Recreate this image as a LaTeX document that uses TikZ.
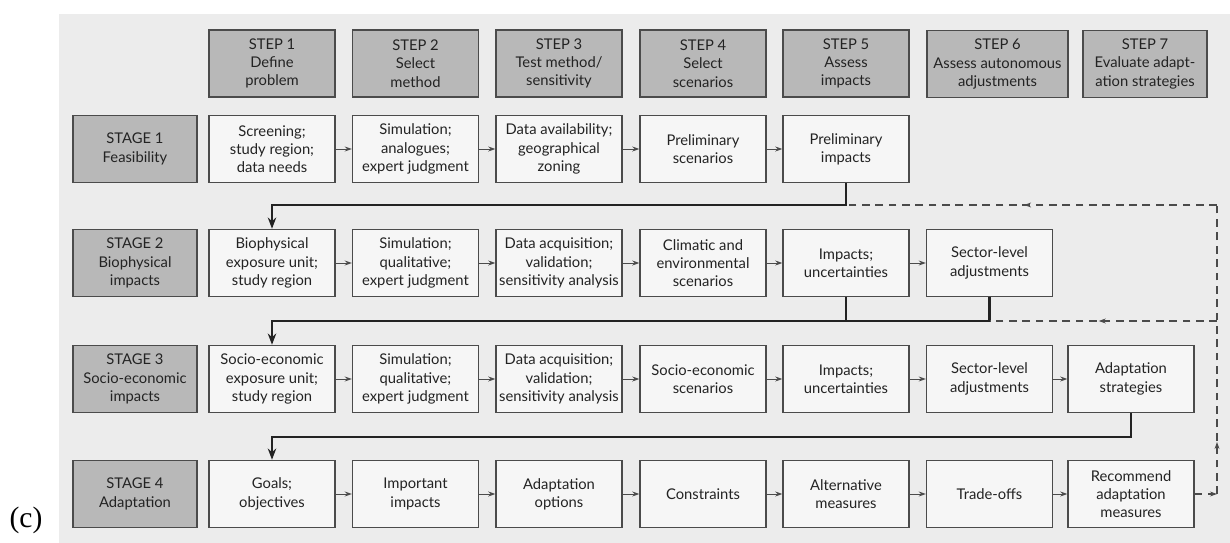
\documentclass[tikz,border=0pt]{standalone}
\usepackage{fontspec}
\setmainfont{Lato}
\newfontfamily\capfont{Liberation Serif}
\usetikzlibrary{arrows.meta,decorations.markings}

\begin{document}
\begin{tikzpicture}[x=0.025cm, y=-0.025cm, >={Stealth[length=5pt,width=3.5pt]}]
      % scan colours
      \definecolor{scancolor}{RGB}{236,236,236}   % page background
      \definecolor{headcolor}{RGB}{184,184,184}   % step / stage boxes
      \definecolor{boxcolor}{RGB}{246,246,246}    % activity boxes
      \definecolor{edgecolor}{RGB}{75,75,75}      % box borders
      \definecolor{inkcolor}{RGB}{35,35,35}       % text and buses

      % styles
      \tikzstyle{head} = [rectangle, draw=edgecolor, line width=0.9pt, fill=headcolor, minimum width=3.15cm, minimum height=1.68cm, align=center, text=inkcolor, inner sep=1pt, font=\fontsize{10.5}{13}\selectfont]
      \tikzstyle{cell} = [head, fill=boxcolor]
      \tikzstyle{flow} = [->, line width=0.7pt, edgecolor]
      \tikzstyle{bus} = [-{Stealth[length=8pt,width=6pt]}, line width=1.6pt, inkcolor]
      \tikzstyle{feedback} = [line width=0.8pt, edgecolor, dash pattern=on 5.5pt off 4pt]
      \tikzset{midarrow/.style={postaction={decorate}, decoration={markings, mark=at position #1 with {\arrow{Stealth[length=5pt,width=3.5pt]}}}}}

      \useasboundingbox (0,0) rectangle (1230,543);
      \fill[scancolor] (59,14) rectangle (1230,543);
      \node[font=\capfont\fontsize{21}{24}\selectfont] (panel) at (26,520) {(c)};

      % steps
      \node[head] (step1) at (272, 63.5) {STEP 1\\Define\\problem};
      \node[head] (step2) at (415.5, 63.5) {STEP 2\\Select\\method};
      \node[head] (step3) at (559, 63.5) {STEP 3\\Test method/\\sensitivity};
      \node[head] (step4) at (703, 63.5) {STEP 4\\Select\\scenarios};
      \node[head] (step5) at (846, 63.5) {STEP 5\\Assess\\impacts};
      \node[head, minimum width=3.525cm] (step6) at (997.5, 64) {STEP 6\\Assess autonomous\\adjustments};
      \node[head, minimum width=3.1cm] (step7) at (1145, 64) {STEP 7\\Evaluate adapt-\\ation strategies};

      % stages
      \node[head, minimum width=3.1cm] (stage1) at (135, 149) {STAGE 1\\Feasibility};
      \node[head, minimum width=3.1cm] (stage2) at (135, 263) {STAGE 2\\Biophysical\\impacts};
      \node[head, minimum width=3.1cm] (stage3) at (135, 379) {STAGE 3\\Socio-economic\\impacts};
      \node[head, minimum width=3.1cm] (stage4) at (135, 494) {STAGE 4\\Adaptation};

      % stage 1 row
      \node[cell] (feas1) at (272, 149) {Screening;\\study region;\\data needs};
      \node[cell] (feas2) at (415.5, 149) {Simulation;\\analogues;\\expert judgment};
      \node[cell] (feas3) at (559, 149) {Data availability;\\geographical\\zoning};
      \node[cell] (feas4) at (703, 149) {Preliminary\\scenarios};
      \node[cell] (feas5) at (846, 149) {Preliminary\\impacts};

      % stage 2 row
      \node[cell] (bio1) at (272, 263) {Biophysical\\exposure unit;\\study region};
      \node[cell] (bio2) at (415.5, 263) {Simulation;\\qualitative;\\expert judgment};
      \node[cell] (bio3) at (559, 263) {Data acquisition;\\validation;\\sensitivity analysis};
      \node[cell] (bio4) at (703, 263) {Climatic and\\environmental\\scenarios};
      \node[cell] (bio5) at (846, 263) {Impacts;\\uncertainties};
      \node[cell] (bio6) at (989.5, 263) {Sector-level\\adjustments};

      % stage 3 row
      \node[cell] (soc1) at (272, 379) {Socio-economic\\exposure unit;\\study region};
      \node[cell] (soc2) at (415.5, 379) {Simulation;\\qualitative;\\expert judgment};
      \node[cell] (soc3) at (559, 379) {Data acquisition;\\validation;\\sensitivity analysis};
      \node[cell] (soc4) at (703, 379) {Socio-economic\\scenarios};
      \node[cell] (soc5) at (846, 379) {Impacts;\\uncertainties};
      \node[cell] (soc6) at (989.5, 379) {Sector-level\\adjustments};
      \node[cell] (soc7) at (1131, 379) {Adaptation\\strategies};

      % stage 4 row
      \node[cell] (adapt1) at (272, 494) {Goals;\\objectives};
      \node[cell] (adapt2) at (415.5, 494) {Important\\impacts};
      \node[cell] (adapt3) at (559, 494) {Adaptation\\options};
      \node[cell] (adapt4) at (703, 494) {Constraints};
      \node[cell] (adapt5) at (846, 494) {Alternative\\measures};
      \node[cell] (adapt6) at (989.5, 494) {Trade-offs};
      \node[cell] (adapt7) at (1131, 494) {Recommend\\adaptation\\measures};

      % arrows along the rows
      \draw[flow] (feas1) -- (feas2); \draw[flow] (feas2) -- (feas3); \draw[flow] (feas3) -- (feas4); \draw[flow] (feas4) -- (feas5);
      \draw[flow] (bio1) -- (bio2); \draw[flow] (bio2) -- (bio3); \draw[flow] (bio3) -- (bio4); \draw[flow] (bio4) -- (bio5); \draw[flow] (bio5) -- (bio6);
      \draw[flow] (soc1) -- (soc2); \draw[flow] (soc2) -- (soc3); \draw[flow] (soc3) -- (soc4); \draw[flow] (soc4) -- (soc5); \draw[flow] (soc5) -- (soc6); \draw[flow] (soc6) -- (soc7);
      \draw[flow] (adapt1) -- (adapt2); \draw[flow] (adapt2) -- (adapt3); \draw[flow] (adapt3) -- (adapt4); \draw[flow] (adapt4) -- (adapt5); \draw[flow] (adapt5) -- (adapt6); \draw[flow] (adapt6) -- (adapt7);

      % buses between stages
      \coordinate (bus1) at (846, 205);
      \coordinate (bus2) at (989.5, 321);
      \coordinate (bus3) at (1131, 437);
      \draw[bus] (feas5.south) -- (bus1) -| (bio1.north);
      \draw[bus] (bio6.south) -- (bus2) -| (soc1.north);
      \draw[bus, -] (bio5.south) -- (bio5.south |- bus2);
      \draw[bus] (soc7.south) -- (bus3) -| (adapt1.north);

      % feedback loop
      \coordinate (fbBottom) at (1217, 494);
      \coordinate (fbMid) at (1217, 321);
      \coordinate (fbTop) at (1217, 205);
      \draw[feedback, ->] (adapt7.east) -- (fbBottom);
      \draw[feedback, midarrow=0.18] (fbBottom) -- (fbTop);
      \draw[feedback, midarrow=0.52] (fbTop) -- (bus1);
      \draw[feedback, midarrow=0.52] (fbMid) -- (bus2);
    \end{tikzpicture}
\end{document}
